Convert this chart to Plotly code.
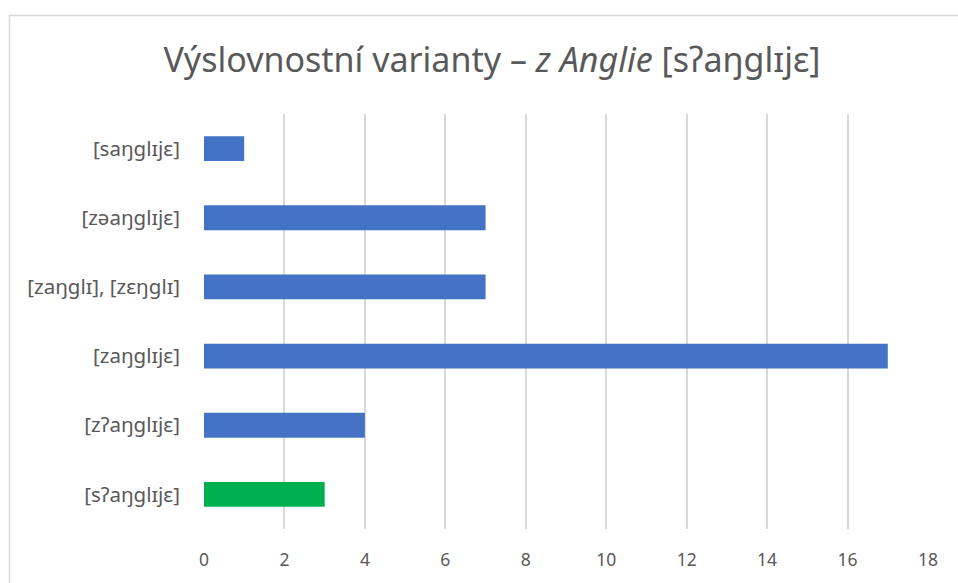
import plotly.graph_objects as go

categories = ["[sʔaŋglɪjɛ]", "[zʔaŋglɪjɛ]", "[zaŋglɪjɛ]", "[zaŋglɪ], [zɛŋglɪ]", "[zəaŋglɪjɛ]", "[saŋglɪjɛ]"]
values = [3, 4, 17, 7, 7, 1]
bar_colors = ["#00B050", "#4472C4", "#4472C4", "#4472C4", "#4472C4", "#4472C4"]
x_ticks = [0, 2, 4, 6, 8, 10, 12, 14, 16, 18]

W, H = 958, 583
L, R, T, B = 204, 30, 114, 54

fig = go.Figure(go.Bar(
    x=values, y=categories, orientation="h",
    marker=dict(color=bar_colors, line=dict(width=0)),
    width=0.36,
))

font_family = "Noto Sans, DejaVu Sans, sans-serif"
fig.update_layout(
    width=W, height=H,
    margin=dict(l=L, r=R, t=T, b=B, autoexpand=False),
    paper_bgcolor="white", plot_bgcolor="white",
    showlegend=False,
    font=dict(family=font_family, color="#595959", size=16),
    title=dict(
        text="Výslovnostní varianty – <i>z Anglie</i> [sʔaŋglɪjɛ]",
        x=492 / W, xanchor="center", xref="container",
        y=1 - 60 / H, yanchor="middle", yref="container",
        font=dict(size=34, color="#595959", family=font_family),
    ),
    xaxis=dict(
        range=[0, 18], tickvals=x_ticks, showgrid=True, gridcolor="#D9D9D9", gridwidth=1.5,
        zeroline=False, showline=False, ticks="", ticklabelstandoff=18,
        tickfont=dict(size=17.5, color="#595959"), fixedrange=True,
    ),
    yaxis=dict(
        categoryorder="array", categoryarray=categories,
        showgrid=False, zeroline=False, showline=False, ticks="",
        ticklabelstandoff=23, tickfont=dict(size=20.5, color="#595959"),
        range=[-0.5, len(categories) - 0.5], fixedrange=True,
    ),
    shapes=[dict(
        type="rect", xref="paper", yref="paper",
        x0=(9.5 - L) / (W - L - R), x1=(W + 20 - L) / (W - L - R),
        y0=-(B + 20) / (H - T - B), y1=1 + (T - 15.5) / (H - T - B),
        line=dict(color="#D9D9D9", width=1.5), layer="below",
    )],
)

fig.write_html(
    "out.html",
    config={"displayModeBar": False},
    post_script="document.body.style.margin='0';document.body.style.overflow='hidden';",
)
